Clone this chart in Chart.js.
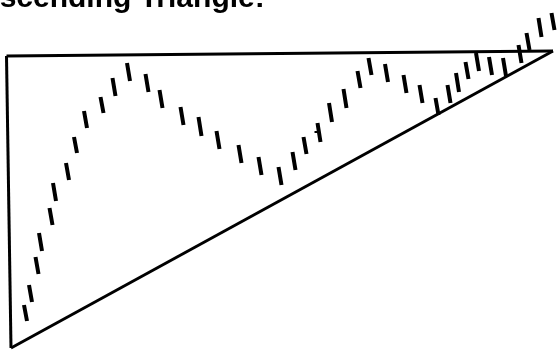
<!DOCTYPE html>
<html>
<head>
<meta charset="utf-8">
<title>Ascending Triangle</title>
<script src="https://cdn.jsdelivr.net/npm/chart.js@4/dist/chart.umd.min.js"></script>
<style>
  html, body { margin: 0; padding: 0; background: #fff; overflow: hidden; }
  #wrap { position: relative; width: 557px; height: 350px; }
  #title {
    position: absolute; left: -22px; top: -18px;
    font: bold 30px "Liberation Sans", Arial, sans-serif;
    line-height: 30px; white-space: nowrap; color: #000;
  }
</style>
</head>
<body>
<div id="wrap">
  <canvas id="chart" width="557" height="350"></canvas>
  <div id="title">Ascending Triangle:</div>
</div>
<script>
// --- price bars (day position, high, low) ---
const days  = [25.5, 30.5, 37, 40.5, 51, 54.5, 67.5, 75.5, 85.5, 102,
               114, 128.5, 147, 161, 182, 200, 218, 240, 260, 280,
               294, 305, 319, 330.5, 345, 359, 370, 386.5, 405, 421,
               437, 449, 457.5, 467, 477.5, 490.5, 504.5, 520, 528, 540, 553];
const highs = [45, 65, 93, 117, 142, 167, 187, 213, 239, 253,
               272, 287, 276, 260, 243, 233, 219, 205, 193, 183,
               198, 213, 227, 247, 261, 279, 292, 286, 275, 265,
               252, 265, 277, 288, 297, 293, 292, 305, 317, 332, 337];
const lows  = [29, 48, 76, 99, 125, 149, 170, 197, 222, 237,
               254, 269, 258, 242, 225, 214, 201, 187, 175, 165,
               180, 196, 208, 228, 242, 262, 275, 268, 257, 247,
               235, 247, 258, 271, 279, 275, 274, 287, 300, 313, 320];
// only one bar carries an opening tick
const opens = days.map((d, i) => i === 22 ? 218 : null);

// --- triangle: flat resistance on top, rising support below ---
const resistance = [[6.5, 294], [553, 299]];
const support    = [[11, 2], [553, 299]];
const leftEdge   = [[6.5, 294], [11, 2]];

const SLANT = 1.5;    // bars are drawn with a slight lean
const TICK  = 4;

const barPts = [];
days.forEach((d, i) => {
  barPts.push({ x: d - SLANT, y: highs[i] });
  barPts.push({ x: d + SLANT, y: lows[i] });
  barPts.push({ x: d, y: null });
});

const tickPts = [];
opens.forEach((o, i) => {
  if (o === null) return;
  tickPts.push({ x: days[i] - TICK - 0.5, y: o });
  tickPts.push({ x: days[i], y: o });
  tickPts.push({ x: days[i], y: null });
});

const toPts = arr => arr.map(p => ({ x: p[0], y: p[1] }));

const lineDs = (data, width, cap) => ({
  data, showLine: true, borderColor: '#000', borderWidth: width,
  pointRadius: 0, spanGaps: false, clip: false, tension: 0,
  borderCapStyle: cap || 'butt', borderJoinStyle: 'miter'
});

new Chart(document.getElementById('chart'), {
  type: 'scatter',
  data: {
    datasets: [
      lineDs(barPts, 4),
      lineDs(tickPts, 2),
      lineDs(toPts(resistance), 2.8),
      lineDs(toPts(support), 3),
      lineDs(toPts(leftEdge), 3)
    ]
  },
  options: {
    responsive: false,
    animation: false,
    layout: { padding: 0 },
    plugins: { legend: { display: false }, tooltip: { enabled: false } },
    scales: {
      x: { type: 'linear', min: 0, max: 557, display: false },
      y: { type: 'linear', min: 0, max: 350, display: false }
    }
  }
});
</script>
</body>
</html>
